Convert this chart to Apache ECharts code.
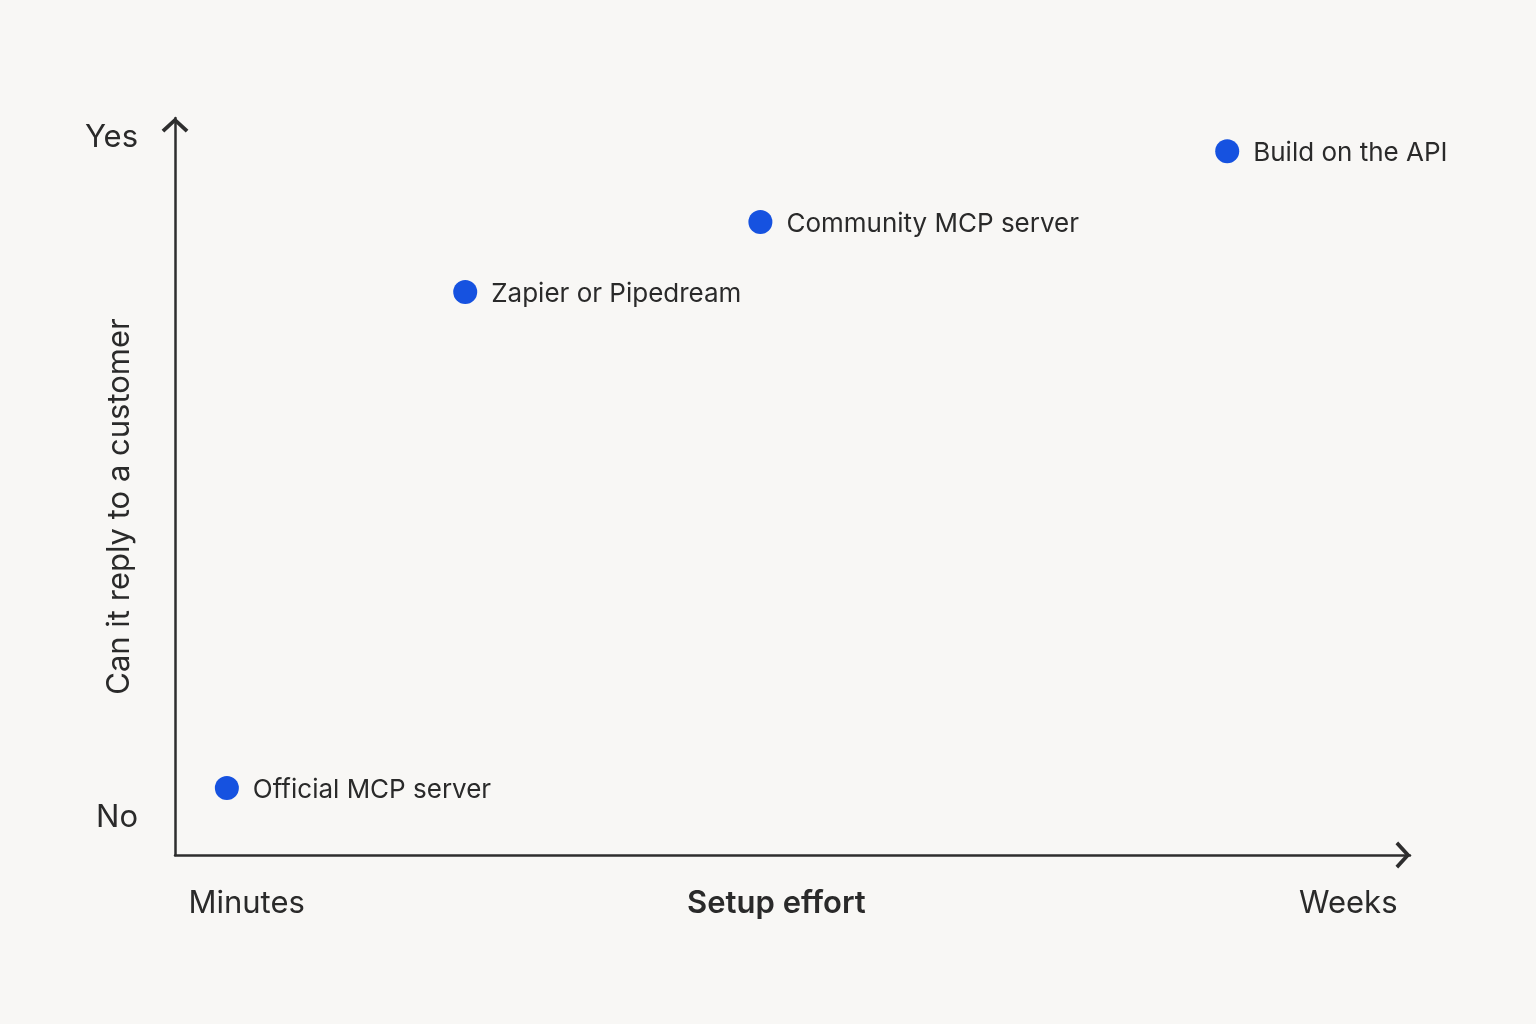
<!DOCTYPE html>
<html>
<head>
<meta charset="utf-8">
<script src="https://cdn.jsdelivr.net/npm/echarts@6/dist/echarts.min.js"></script>
<style>
html,body{margin:0;padding:0;background:#f8f7f5;}
#c{width:1536px;height:1024px;}
</style>
</head>
<body>
<div id="c"></div>
<script>
// Data
const optionNames = ['Official MCP server', 'Zapier or Pipedream', 'Community MCP server', 'Build on the API'];
const setupEffort = [4.2, 23.5, 47.4, 85.2];
const canReply = [9.1, 76.4, 85.9, 95.5];
const xTickValues = [5.8, 48.7, 95.0];
const xTickLabels = ['Minutes', 'Setup effort', 'Weeks'];
const yTickValues = [5.0, 97.3];
const yTickLabels = ['No', 'Yes'];
const yAxisTitle = 'Can it reply to a customer';

const FONT = 'Inter, "Noto Sans", sans-serif';
const AXIS_COLOR = '#2e2e2e';
const TEXT_COLOR = '#2a2a2a';
const chevron = 'path://M0 46 L50 0 L100 46 L90 56 L50 19 L10 56 Z';

const chart = echarts.init(document.getElementById('c'), null, {renderer: 'canvas'});
chart.setOption({
  backgroundColor: '#f8f7f5',
  animation: false,
  grid: {left: 175, right: 126, top: 118, bottom: 169, containLabel: false},
  xAxis: {
    type: 'value', min: 0, max: 100,
    splitLine: {show: false},
    axisTick: {show: false},
    axisLine: {show: true, lineStyle: {color: AXIS_COLOR, width: 2.5},
      symbol: ['none', chevron], symbolSize: [28, 15], symbolOffset: [0, -7]},
    axisLabel: {
      customValues: xTickValues,
      margin: 33,
      fontFamily: FONT, fontSize: 31, color: TEXT_COLOR,
      formatter: function (v) {
        const i = xTickValues.indexOf(v);
        const t = i >= 0 ? xTickLabels[i] : '';
        return i === 1 ? '{b|' + t + '}' : t;
      },
      rich: {b: {fontFamily: FONT, fontSize: 31, fontWeight: 600, color: TEXT_COLOR}}
    }
  },
  yAxis: {
    type: 'value', min: 0, max: 100,
    splitLine: {show: false},
    axisTick: {show: false},
    axisLine: {show: true, lineStyle: {color: AXIS_COLOR, width: 2.5},
      symbol: ['none', chevron], symbolSize: [28, 15], symbolOffset: [0, -7]},
    axisLabel: {
      customValues: yTickValues,
      margin: 37,
      padding: [4, 0, 0, 0],
      fontFamily: FONT, fontSize: 31, color: TEXT_COLOR,
      formatter: function (v) {
        const i = yTickValues.indexOf(v);
        return i >= 0 ? yTickLabels[i] : '';
      }
    },
    name: yAxisTitle,
    nameLocation: 'middle',
    nameMoveOverlap: false,
    nameGap: 40,
    nameRotate: 90,
    nameTextStyle: {fontFamily: FONT, fontSize: 31, color: TEXT_COLOR, padding: [0, 40, 0, 0]}
  },
  series: [{
    type: 'scatter',
    symbol: 'circle',
    symbolSize: 24,
    itemStyle: {color: '#1652e0', opacity: 1},
    emphasis: {disabled: true},
    data: optionNames.map((n, i) => ({name: n, value: [setupEffort[i], canReply[i]]})),
    label: {
      show: true, position: 'right', distance: 14, offset: [0, 2],
      formatter: '{b}',
      fontFamily: FONT, fontSize: 26, color: TEXT_COLOR, opacity: 1
    }
  }]
});
</script>
</body>
</html>
